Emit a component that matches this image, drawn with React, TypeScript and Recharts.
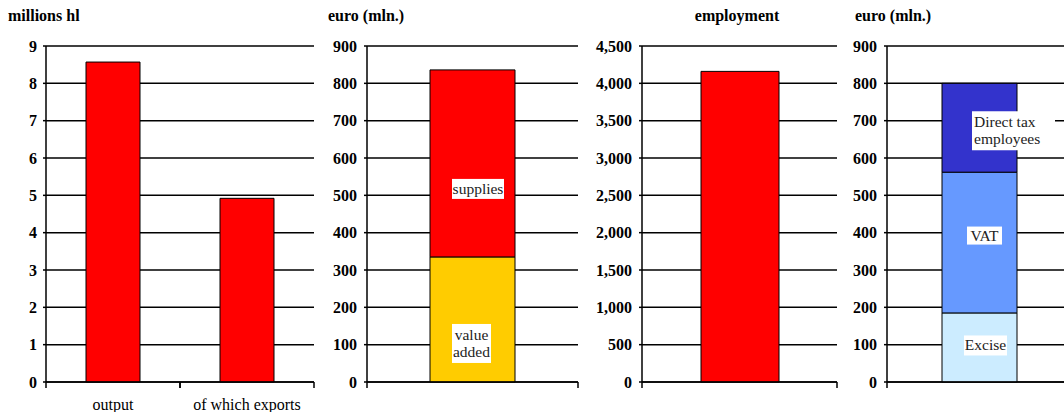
import { BarChart, Bar, XAxis, YAxis, CartesianGrid, LabelList } from "recharts";

const FONT = '"Liberation Serif", "Times New Roman", serif';

// panel 1: volumes (millions hl)
const volumeCategories = ["output", "of which exports"];
const volumeValues = [8.57, 4.92];
const volumeTicks = [0, 1, 2, 3, 4, 5, 6, 7, 8, 9];

// panel 2: value (euro mln.)
const valueCategories = [""];
const valueAdded = [335];
const supplies = [501];
const euroTicks = [0, 100, 200, 300, 400, 500, 600, 700, 800, 900];

// panel 3: employment
const employmentCategories = [""];
const employment = [4160];
const employmentTicks = [0, 500, 1000, 1500, 2000, 2500, 3000, 3500, 4000, 4500];

// panel 4: taxes (euro mln.)
const taxCategories = [""];
const excise = [185];
const vat = [377];
const directTax = [238];

const volumeData = volumeCategories.map((name, i) => ({ name, value: volumeValues[i] }));
const valueData = valueCategories.map((name, i) => ({ name, valueAdded: valueAdded[i], supplies: supplies[i] }));
const employmentData = employmentCategories.map((name, i) => ({ name, value: employment[i] }));
const taxData = taxCategories.map((name, i) => ({ name, excise: excise[i], vat: vat[i], directTax: directTax[i] }));

const tickFont = { fontFamily: FONT, fontSize: 16, fontWeight: "bold" as const, fill: "#000" };

// x axis: tick marks on the category boundaries, label under the centre
const boundaryTick = (band: number, showLabel: boolean) => (props: any) => {
  const { x, y, payload } = props;
  return (
    <g>
      <line x1={x - band / 2} x2={x - band / 2} y1={y} y2={y + 6} stroke="#000" strokeWidth={1.5} />
      <line x1={x + band / 2} x2={x + band / 2} y1={y} y2={y + 6} stroke="#000" strokeWidth={1.5} />
      {showLabel && (
        <text x={x} y={y + 28} textAnchor="middle" fontFamily={FONT} fontSize={16} fill="#000">
          {payload.value}
        </text>
      )}
    </g>
  );
};

// white text box inside a stacked segment
const boxLabel = (lines: string[], dx: number, dy: number, boxW: number, boxH: number, leftAlign = false) => (props: any) => {
  const vb = props.viewBox && props.viewBox.width !== undefined ? props.viewBox : props;
  const cx = vb.x + vb.width / 2 + dx;
  const cy = vb.y + vb.height / 2 + dy;
  const lineH = 17;
  const first = cy - ((lines.length - 1) * lineH) / 2 + 5;
  const left = leftAlign ? cx - boxW / 2 : cx;
  return (
    <g>
      <rect x={cx - boxW / 2} y={cy - boxH / 2} width={boxW} height={boxH} fill="#fff" />
      <text fontFamily={FONT} fontSize={15.5} fill="#222" textAnchor={leftAlign ? "start" : "middle"}>
        {lines.map((l, i) => (
          <tspan key={i} x={leftAlign ? left + 2 : left} y={first + i * lineH}>
            {l}
          </tspan>
        ))}
      </text>
    </g>
  );
};

const titleStyle = {
  position: "absolute" as const,
  top: 8,
  fontFamily: FONT,
  fontWeight: "bold" as const,
  fontSize: 16,
  lineHeight: "16px",
  whiteSpace: "nowrap" as const,
  color: "#000",
};

const axisLine = { stroke: "#000", strokeWidth: 1.5 };

export default function App() {
  return (
    <div style={{ position: "absolute", left: 0, top: 0, width: 1064, height: 412, overflow: "hidden", background: "#fff" }}>
      <div style={{ ...titleStyle, left: 8 }}>millions hl</div>
      <div style={{ ...titleStyle, left: 328 }}>euro (mln.)</div>
      <div style={{ ...titleStyle, left: 637, width: 200, textAlign: "center" }}>employment</div>
      <div style={{ ...titleStyle, left: 855 }}>euro (mln.)</div>

      <div style={{ position: "absolute", left: 0, top: 0 }}>
        <BarChart width={320} height={412} data={volumeData} margin={{ top: 46, right: 6, left: 0, bottom: 0 }}>
          <CartesianGrid vertical={false} stroke="#000" strokeWidth={1.5} />
          <XAxis dataKey="name" height={30} axisLine={axisLine} tickLine={false} tickSize={0} tickMargin={0} tick={boundaryTick(134, true)} interval={0} />
          <YAxis width={46} domain={[0, 9]} ticks={volumeTicks} interval={0} axisLine={axisLine} tickLine={axisLine} tickSize={3} tickMargin={6} tick={tickFont} />
          <Bar dataKey="value" fill="#FF0000" stroke="#000" strokeWidth={1} barSize={54} isAnimationActive={false} />
        </BarChart>
      </div>

      <div style={{ position: "absolute", left: 320, top: 0 }}>
        <BarChart width={260} height={412} data={valueData} margin={{ top: 46, right: 2, left: 0, bottom: 0 }}>
          <CartesianGrid vertical={false} stroke="#000" strokeWidth={1.5} />
          <XAxis dataKey="name" height={30} axisLine={axisLine} tickLine={false} tickSize={0} tickMargin={0} tick={boundaryTick(211, false)} interval={0} />
          <YAxis width={47} domain={[0, 900]} ticks={euroTicks} interval={0} axisLine={axisLine} tickLine={axisLine} tickSize={3} tickMargin={7} tick={tickFont} />
          <Bar dataKey="valueAdded" stackId="v" fill="#FFCC00" stroke="#000" strokeWidth={1} barSize={85} isAnimationActive={false}>
            <LabelList dataKey="valueAdded" content={boxLabel(["value", "added"], -1, 24, 39, 39)} />
          </Bar>
          <Bar dataKey="supplies" stackId="v" fill="#FF0000" stroke="#000" strokeWidth={1} barSize={85} isAnimationActive={false}>
            <LabelList dataKey="supplies" content={boxLabel(["supplies"], 5.5, 25.5, 52, 20)} />
          </Bar>
        </BarChart>
      </div>

      <div style={{ position: "absolute", left: 580, top: 0 }}>
        <BarChart width={260} height={412} data={employmentData} margin={{ top: 46, right: 3, left: 0, bottom: 0 }}>
          <CartesianGrid vertical={false} stroke="#000" strokeWidth={1.5} />
          <XAxis dataKey="name" height={30} axisLine={axisLine} tickLine={false} tickSize={0} tickMargin={0} tick={boundaryTick(195, false)} interval={0} />
          <YAxis
            width={62}
            domain={[0, 4500]}
            ticks={employmentTicks}
            interval={0}
            axisLine={axisLine}
            tickLine={axisLine}
            tickSize={3}
            tickMargin={7}
            tick={tickFont}
            tickFormatter={(v: number) => v.toLocaleString("en-US")}
          />
          <Bar dataKey="value" fill="#FF0000" stroke="#000" strokeWidth={1} barSize={78} isAnimationActive={false} />
        </BarChart>
      </div>

      <div style={{ position: "absolute", left: 840, top: 0 }}>
        <BarChart width={232} height={412} data={taxData} margin={{ top: 46, right: 0, left: 0, bottom: 0 }}>
          <CartesianGrid vertical={false} stroke="#000" strokeWidth={1.5} />
          <XAxis dataKey="name" height={30} axisLine={axisLine} tickLine={false} tickSize={0} tickMargin={0} tick={boundaryTick(185, false)} interval={0} />
          <YAxis width={47} domain={[0, 900]} ticks={euroTicks} interval={0} axisLine={axisLine} tickLine={axisLine} tickSize={3} tickMargin={7} tick={tickFont} />
          <Bar dataKey="excise" stackId="t" fill="#CCECFF" stroke="#000" strokeWidth={1} barSize={75} isAnimationActive={false}>
            <LabelList dataKey="excise" content={boxLabel(["Excise"], 6, -2, 43, 20)} />
          </Bar>
          <Bar dataKey="vat" stackId="t" fill="#6699FF" stroke="#000" strokeWidth={1} barSize={75} isAnimationActive={false}>
            <LabelList dataKey="vat" content={boxLabel(["VAT"], 5, -7, 35, 18)} />
          </Bar>
          <Bar dataKey="directTax" stackId="t" fill="#3333CC" stroke="#000" strokeWidth={1} barSize={75} isAnimationActive={false}>
            <LabelList dataKey="directTax" content={boxLabel(["Direct tax", "employees"], 34, 3, 83, 39, true)} />
          </Bar>
        </BarChart>
      </div>
    </div>
  );
}
